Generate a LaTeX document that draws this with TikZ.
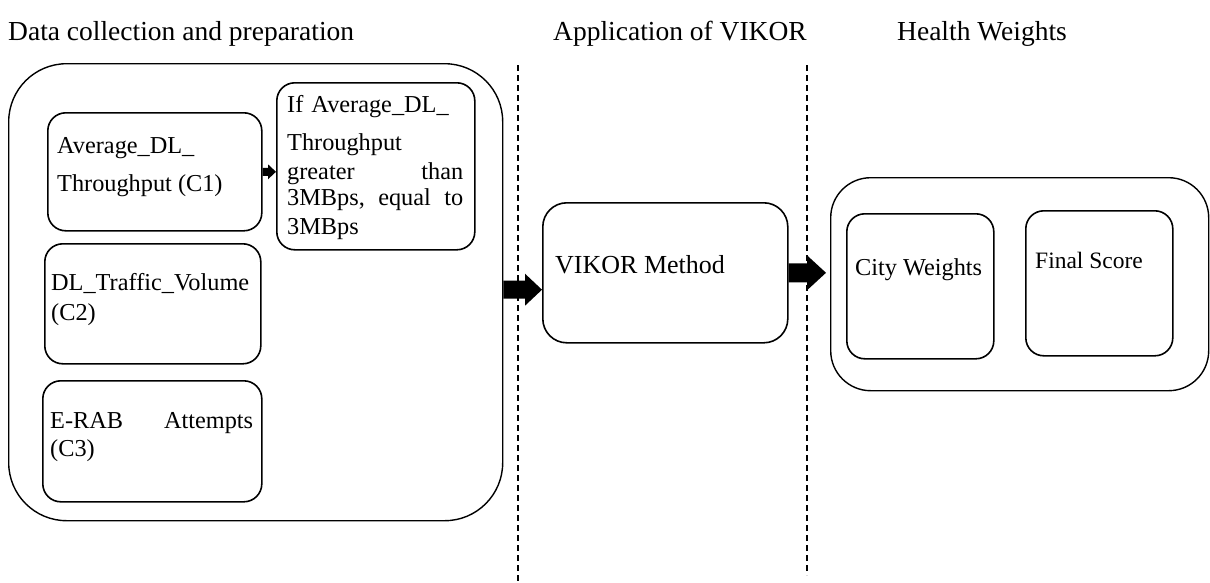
\documentclass[tikz,border=0pt]{standalone}
\usepackage{fontspec}
\setmainfont{Liberation Serif}
\usetikzlibrary{calc}
\newcommand{\blkarrow}[5]{%
  \fill let \p1=(#1), \p2=(#2) in
    (\x1,\y1+#3pt) -- (\x2-#5pt,\y1+#3pt) -- (\x2-#5pt,\y1+#4pt) -- (\x2,\y1)
    -- (\x2-#5pt,\y1-#4pt) -- (\x2-#5pt,\y1-#3pt) -- (\x1,\y1-#3pt) -- cycle;}
\begin{document}
\begin{tikzpicture}[x=1pt,y=-1pt,
  box/.style={draw, line width=1.6pt, rounded corners=18pt, inner sep=0pt, anchor=north west},
  outerbox/.style={draw, line width=1.4pt, inner sep=0pt, anchor=north west},
  title/.style={font=\fontsize{27.5}{32}\selectfont, anchor=base west, inner sep=0pt},
  btext/.style={font=\fontsize{24.3}{28}\selectfont, anchor=north west, inner sep=0pt, align=left},
  sep/.style={line width=1.3pt, dash pattern=on 6pt off 4pt}]
\useasboundingbox (0,0) rectangle (1210,582);

% titles
\node[title] (t1) at (8,40) {Data collection and preparation};
\node[title] (t2) at (553,40) {Application of VIKOR};
\node[title] (t3) at (897,40) {Health Weights};

% dashed separators
\coordinate (d1t) at (518,65);
\coordinate (d1b) at (518,582);
\coordinate (d2t) at (807,65);
\coordinate (d2b) at (807,575);
\draw[sep] (d1t) -- (d1b);
\draw[sep] (d2t) -- (d2b);

% left group
\node[outerbox, rounded corners=58pt, minimum width=494pt, minimum height=457pt] (outerL) at (8,63) {};
\node[box, minimum width=214pt, minimum height=118pt] (c1) at (47,112) {};
\node[box, minimum width=198pt, minimum height=167pt] (ifbox) at (276,82) {};
\node[box, minimum width=216pt, minimum height=120pt] (c2) at (44,243) {};
\node[box, minimum width=219pt, minimum height=121pt] (c3) at (42,380) {};

\node[btext] (c1t) at (57,137) {Average\_DL\_\\[10pt]Throughput (C1)};
\node[btext, text width=176pt] (ift) at (287,95) {If Average\_DL\_\\[10pt]Throughput\\[1pt]greater\hfill than\\[-2pt]3MBps,\hfill equal\hfill to\\[1pt]3MBps};
\node[btext] (c2t) at (51,273) {DL\_Traffic\_Volume\\[2pt](C2)};
\node[btext, text width=203pt] (c3t) at (50,412) {E-RAB\hfill Attempts\\(C3)};

% middle
\node[box, rounded corners=24pt, minimum width=245pt, minimum height=140pt] (vik) at (542,202) {};
\node[font=\fontsize{26}{30}\selectfont, anchor=west, inner sep=0pt] (vikt) at (555,265) {VIKOR Method};

% right group
\node[outerbox, rounded corners=40pt, minimum width=378pt, minimum height=213pt] (outerR) at (830,177) {};
\node[box, minimum width=147pt, minimum height=145pt] (city) at (846,213) {};
\node[box, minimum width=147pt, minimum height=145pt] (final) at (1025,210) {};
\node[font=\fontsize{24.3}{28}\selectfont, anchor=base west, inner sep=0pt] (cityt) at (855,275) {City Weights};
\node[font=\fontsize{23.5}{28}\selectfont, anchor=west, inner sep=0pt] (finalt) at (1035,260) {Final Score};

% arrows
\blkarrow{c1.east}{ifbox.west}{4}{7.5}{8}
\blkarrow{$(outerL.east)+(0,-2.5)$}{vik.west}{9}{16}{17}
\blkarrow{vik.east}{$(outerR.west)+(-4,0)$}{9.5}{17.5}{19}
\end{tikzpicture}
\end{document}
